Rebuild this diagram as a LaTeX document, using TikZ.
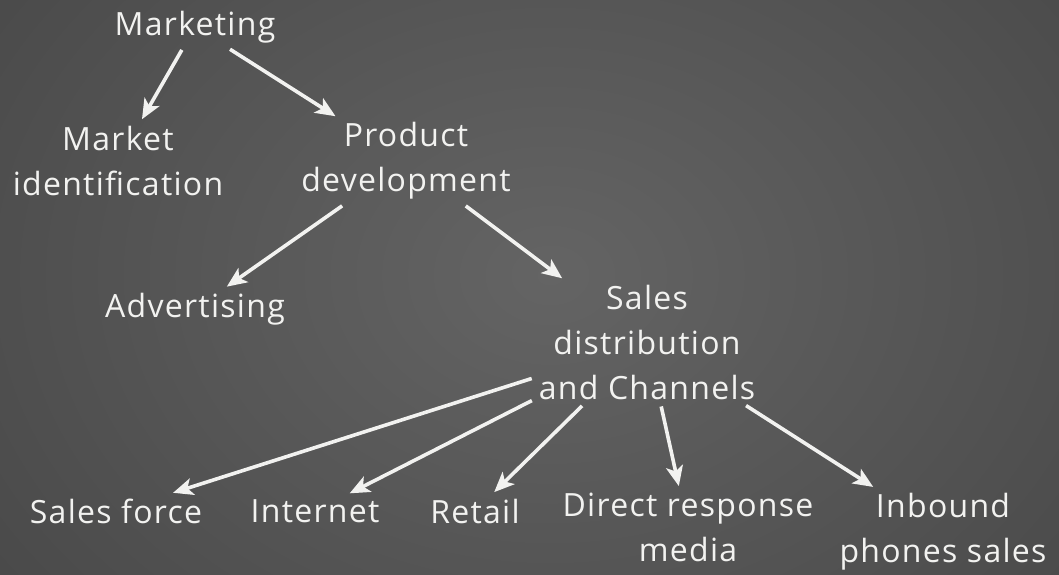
\documentclass[tikz,border=0pt]{standalone}
\usepackage{fontspec}
\setmainfont{Open Sans}[LetterSpace=4]
\usetikzlibrary{arrows.meta}
\definecolor{chalk}{HTML}{F2F2F0}
\definecolor{boardin}{HTML}{646464}
\definecolor{boardout}{HTML}{474747}
\begin{document}
\begin{tikzpicture}[x=1pt,y=-1pt,
  lbl/.style={text=chalk, font=\fontsize{32}{45}\selectfont, align=center, inner sep=5pt},
  arr/.style={draw=chalk, line width=3.6pt, -{Stealth[length=20pt,width=17pt,inset=5pt]}, shorten >=2pt, shorten <=2pt}]
\useasboundingbox (0,0) rectangle (1059,574);
\shade[inner color=boardin, outer color=boardout] (-200,-300) rectangle (1300,850);
\node[lbl] (mkt) at (195,27) {Marketing};
\node[lbl] (mid) at (118,161) {Market\\identification};
\node[lbl] (pdev) at (406,161) {Product\\development};
\node[lbl] (adv) at (195,309) {Advertising};
\node[lbl] (sales) at (647,342) {Sales\\distribution\\and Channels};
\node[lbl] (sf) at (116,511) {Sales force};
\node[lbl] (net) at (315,511) {Internet};
\node[lbl] (ret) at (475,511) {Retail};
\node[lbl, anchor=north] (drm) at (688,488) {Direct response\\media};
\node[lbl, anchor=north] (inb) at (943,488) {Inbound\\phones sales};
\draw[arr] (mkt) -- (mid);
\draw[arr] (mkt) -- (pdev);
\draw[arr] (pdev) -- (adv);
\draw[arr] (pdev) -- (sales);
\draw[arr] (sales) -- (sf);
\draw[arr] (sales) -- (net);
\draw[arr] (sales) -- (ret);
\draw[arr] (sales) -- (drm);
\draw[arr] (sales) -- (inb);
\end{tikzpicture}
\end{document}
